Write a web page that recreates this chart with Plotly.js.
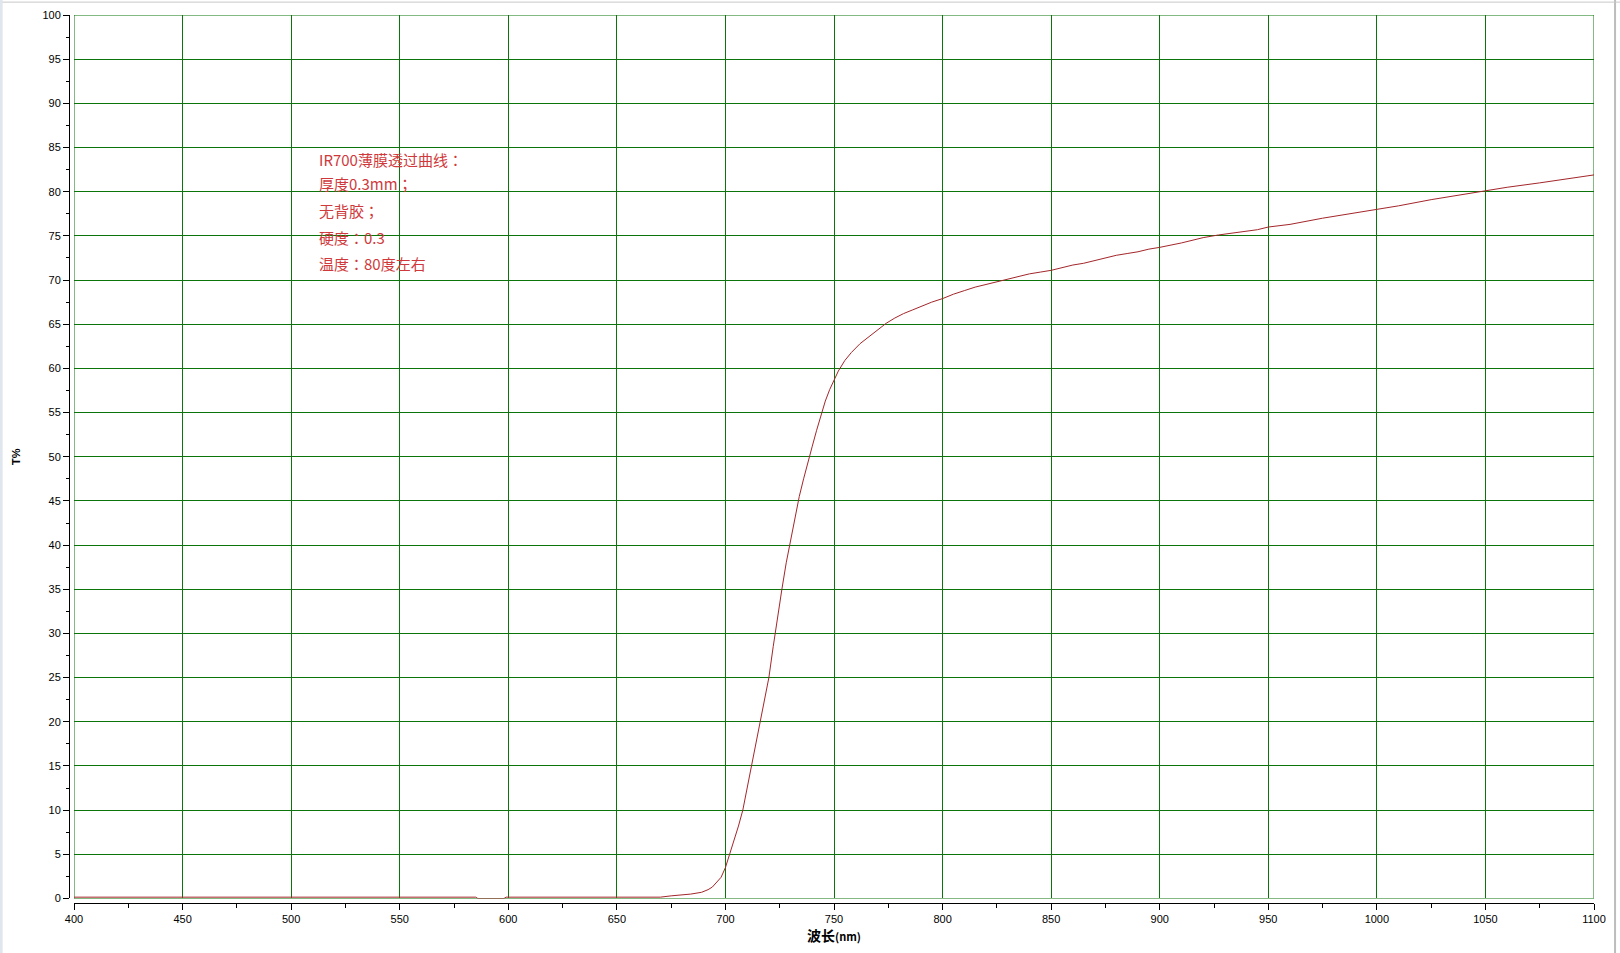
<!DOCTYPE html>
<html>
<head>
<meta charset="utf-8">
<script src="https://cdn.plot.ly/plotly-3.0.1.min.js"></script>
<style>html,body{margin:0;padding:0;background:#fff;}#chart{width:1620px;height:953px;}</style>
</head>
<body>
<div id="chart"></div>
<script>
// Wavelength (nm)
const wavelength = [400, 585, 586, 598, 599, 670, 675, 680, 684, 689, 692, 694, 696, 698, 700, 702, 704, 706, 708, 710,
  712, 714, 716, 718, 720, 722, 724, 726, 728, 730, 732, 734, 736, 738, 740, 742, 744, 746, 748, 750,
  752, 755, 758, 762, 766, 770, 774, 778, 782, 786, 790, 795, 800, 805, 810, 815, 820, 825, 830, 835, 840,
  845, 850, 855, 860, 865, 870, 875, 880, 885, 890, 895, 900, 910, 920, 927, 935, 945, 950, 960, 975,
  985, 1000, 1010, 1025, 1035, 1050, 1060, 1075, 1090, 1100];
// Transmittance T (%)
const transmittance = [0.15, 0.15, 0, 0, 0.15, 0.15, 0.3, 0.4, 0.5, 0.7, 1.0, 1.3, 1.8, 2.4, 3.5, 5.0, 6.6, 8.2, 10.0, 12.5,
  15.0, 17.5, 20.0, 22.5, 25.0, 28.5, 32.0, 35.0, 38.0, 40.5, 43.0, 45.5, 47.5, 49.5, 51.2, 53.0, 54.7, 56.3, 57.6, 58.7,
  59.7, 60.9, 61.8, 62.8, 63.6, 64.4, 65.1, 65.7, 66.2, 66.6, 67.0, 67.5, 67.9, 68.4, 68.8, 69.2, 69.5, 69.8, 70.1, 70.4, 70.7,
  70.9, 71.1, 71.4, 71.7, 71.9, 72.2, 72.5, 72.8, 73.0, 73.2, 73.5, 73.7, 74.2, 74.8, 75.1, 75.4, 75.7, 76.0, 76.3, 77.0,
  77.4, 78.0, 78.4, 79.1, 79.5, 80.1, 80.5, 81.0, 81.5, 81.9];
const noteLines = ["IR700薄膜透过曲线：", "厚度0.3mm；", "无背胶；", "硬度：0.3", "温度：80度左右"];
const xTitle = "<b>波长</b><b><span style=\"font-size:11px\">(nm)</span></b>";
const yTitle = "<b>T%</b>";

const green = "#0b750b";
const noteY = [0.8378, 0.8097, 0.7796, 0.7497, 0.7207];

const annotations = noteLines.map((t, i) => ({
  text: t, xref: "paper", yref: "paper", x: 0.1625, y: noteY[i],
  xanchor: "left", yanchor: "middle", showarrow: false,
  font: {family: "Noto Sans CJK JP, Noto Sans CJK SC, sans-serif", size: 15, color: "#d0393b"}
}));

const trace = {
  x: wavelength, y: transmittance, type: "scatter", mode: "lines",
  line: {color: "#a3262a", width: 1}, hoverinfo: "skip", showlegend: false
};

const layout = {
  width: 1620, height: 953,
  margin: {l: 69, r: 26, t: 15, b: 50},
  paper_bgcolor: "#ffffff", plot_bgcolor: "#ffffff",
  font: {family: "Liberation Sans, Arial, sans-serif", size: 11, color: "#000"},
  showlegend: false,
  xaxis: {
    range: [400, 1100], domain: [0.00328, 1], anchor: "free", position: 0,
    tickmode: "linear", tick0: 400, dtick: 50,
    ticks: "outside", ticklen: 6, tickcolor: "#000", tickwidth: 1,
    showline: true, linecolor: "#000", linewidth: 1,
    showgrid: true, gridcolor: green, gridwidth: 1, zeroline: false,
    minor: {dtick: 25, ticks: "outside", ticklen: 4, tickcolor: "#000", showgrid: false},
    tickfont: {size: 11, color: "#000"},
    title: {text: xTitle, font: {family: "Noto Sans CJK SC, sans-serif", size: 14, color: "#000"}, standoff: 5}
  },
  yaxis: {
    range: [0, 100], domain: [0.00507, 1], anchor: "free", position: 0,
    tickmode: "linear", tick0: 0, dtick: 5,
    ticks: "outside", ticklen: 6, tickcolor: "#000", tickwidth: 1,
    showline: true, linecolor: "#000", linewidth: 1,
    showgrid: true, gridcolor: green, gridwidth: 1, zeroline: false,
    minor: {dtick: 2.5, ticks: "outside", ticklen: 3, tickcolor: "#000", showgrid: false},
    tickfont: {size: 11, color: "#000"},
    title: {text: yTitle, font: {family: "Liberation Sans, Arial, sans-serif", size: 11, color: "#000"}, standoff: 18}
  },
  shapes: [
    {type: "rect", xref: "x", yref: "y", x0: 400, x1: 1100, y0: 0, y1: 100, line: {color: green, width: 1}, layer: "below"},
    {type: "line", xref: "paper", yref: "paper", x0: 1.0138, x1: 1.0138, y0: -0.06, y1: 1.02, line: {color: "#bdbdbd", width: 2}},
    {type: "line", xref: "paper", yref: "paper", x0: -0.05, x1: 1.05, y0: 1.0145, y1: 1.0145, line: {color: "#c8c8c8", width: 1}},
    {type: "line", xref: "paper", yref: "paper", x0: -0.0445, x1: -0.0445, y0: -0.06, y1: 1.02, line: {color: "#dfe6ee", width: 3}}
  ],
  annotations: annotations
};

Plotly.newPlot("chart", [trace], layout, {displayModeBar: false, staticPlot: true});
</script>
</body>
</html>
